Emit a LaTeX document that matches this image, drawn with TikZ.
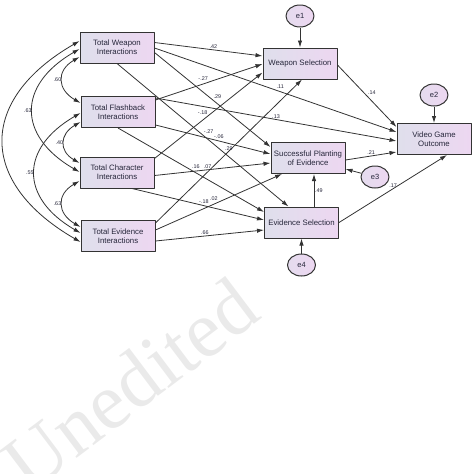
\documentclass[tikz,border=0pt]{standalone}
\usepackage{fontspec}
\setmainfont{Liberation Sans}
\newfontfamily\wmfont{Liberation Serif}
\usetikzlibrary{arrows.meta,shapes.geometric}
\definecolor{boxleft}{HTML}{DFDFEC}
\definecolor{boxright}{HTML}{EDD7F1}
\definecolor{edgecol}{HTML}{333333}
\definecolor{txtcol}{HTML}{26263A}
\definecolor{wmcol}{HTML}{EAEAEA}
\tikzset{
  var/.style={draw=edgecol, line width=1pt, left color=boxleft, right color=boxright,
    minimum width=74pt, minimum height=31pt, align=center, inner sep=1pt,
    font=\fontsize{7.8}{8.8}\selectfont, text=txtcol},
  err/.style={ellipse, draw=edgecol, line width=1pt, left color=boxleft!60!boxright, right color=boxright,
    minimum width=28pt, minimum height=22pt, inner sep=0pt,
    font=\fontsize{7.5}{8}\selectfont, text=txtcol},
  reg/.style={->, draw=edgecol, line width=0.8pt},
  cov/.style={<->, draw=edgecol, line width=0.8pt, out=210, in=150, looseness=1.5},
  wt/.style={font=\fontsize{5.4}{6}\selectfont, text=txtcol, inner sep=0.8pt}
}
\begin{document}
\begin{tikzpicture}[x=1pt, y=-1pt, >={Latex[length=7pt,width=4.4pt]}, line join=round]
	\useasboundingbox (0,0) rectangle (474,474);
	\node[text=wmcol, font=\wmfont\fontsize{80}{80}\selectfont, rotate=37] (wm) at (130,384) {Unedited};
	% observed variables
	\node[var] (twi) at (117,47.5) {Total Weapon\\Interactions};
	\node[var] (tfi) at (118,112) {Total Flashback\\Interactions};
	\node[var] (tci) at (117,172.5) {Total Character\\Interactions};
	\node[var] (tei) at (118,236) {Total Evidence\\Interactions};
	\node[var] (ws) at (300,63.5) {Weapon Selection};
	\node[var] (spe) at (308,158) {Successful Planting\\of Evidence};
	\node[var] (es) at (301.5,222.5) {Evidence Selection};
	\node[var] (vgo) at (434,139) {Video Game\\Outcome};
	% error terms
	\node[err] (e1) at (300,16) {e1};
	\node[err] (e2) at (434,95) {e2};
	\node[err] (e3) at (375,177) {e3};
	\node[err] (e4) at (301.5,265) {e4};
	% covariances
	\draw[cov] ([yshift=-9.5pt]twi.west) to node[wt,left]{.60} ([yshift=9pt]tfi.west);
	\draw[cov] ([yshift=-10pt]tfi.west) to node[wt,left]{.40} ([yshift=9.5pt]tci.west);
	\draw[cov] ([yshift=-8.5pt]tci.west) to node[wt,left]{.63} ([yshift=9pt]tei.west);
	\draw[cov] ([yshift=-1.5pt]twi.west) to node[wt,left]{.63} ([yshift=0.5pt]tci.west);
	\draw[cov] ([yshift=-1pt]tfi.west) to node[wt,left]{.55} ([yshift=3pt]tei.west);
	\draw[cov] ([yshift=6.5pt]twi.west) to ([yshift=-6pt]tei.west);
	% regression weights
	\draw[reg] ([yshift=5pt]twi.east) -- node[wt,anchor=south west]{.42} ([yshift=7.5pt]ws.west);
	\draw[reg] ([yshift=-0.5pt]twi.east) -- node[wt,anchor=south west]{.11} ([yshift=7pt]vgo.west);
	\draw[reg] ([yshift=-5pt]twi.east) -- node[wt,anchor=south west]{.29} ([yshift=11pt]spe.west);
	\draw[reg] (twi.south) -- node[wt,anchor=south west]{-.27} ([xshift=-13pt]es.north);
	\draw[reg] ([yshift=12pt]tfi.east) -- node[wt,anchor=south east]{-.27} ([yshift=-0.5pt]ws.west);
	\draw[reg] ([yshift=14pt]tfi.east) -- node[wt,anchor=south]{.13} ([yshift=-2pt]vgo.west);
	\draw[reg] ([yshift=-13pt]tfi.east) -- node[wt,anchor=south west]{-.06} ([yshift=4pt]spe.west);
	\draw[reg] (tfi.south) -- node[wt,anchor=south west]{.16} ([yshift=10.5pt]es.west);
	\draw[reg] ([yshift=14pt]tci.east) -- node[wt,anchor=south east]{-.18} ([yshift=-9pt]ws.west);
	\draw[reg] ([yshift=-3pt]tci.east) -- node[wt,anchor=south east]{.07} ([yshift=-5pt]spe.west);
	\draw[reg] ([xshift=15pt]tci.south) -- node[wt,anchor=south west]{-.18} ([yshift=2.5pt]es.west);
	\draw[reg] ([yshift=13pt]tei.east) -- node[wt,anchor=south]{.29} ([xshift=2pt]ws.south);
	\draw[reg] ([yshift=6pt]tei.east) -- node[wt,anchor=south east]{.02} ([xshift=-26pt]spe.south);
	\draw[reg] ([yshift=-5pt]tei.east) -- node[wt,anchor=south east]{.66} ([yshift=-7.5pt]es.west);
	\draw[reg] ([yshift=-1.5pt]ws.east) -- node[wt,anchor=south west]{.14} ([yshift=12pt]vgo.west);
	\draw[reg] ([yshift=-2pt]spe.east) -- node[wt,anchor=south]{.21} ([yshift=-13pt]vgo.west);
	\draw[reg] ([xshift=12.5pt]es.north) -- node[wt,anchor=west]{.49} ([xshift=12.5pt]es.north |- spe.south);
	\draw[reg] (es.east) -- node[wt,anchor=south]{.17} ([xshift=13pt]vgo.south);
	% error paths
	\draw[reg] (e1) -- (ws);
	\draw[reg] (e2) -- (vgo);
	\draw[reg] (e3) -- ([yshift=-11pt]spe.east);
	\draw[reg] (e4) -- (es);
\end{tikzpicture}
\end{document}
